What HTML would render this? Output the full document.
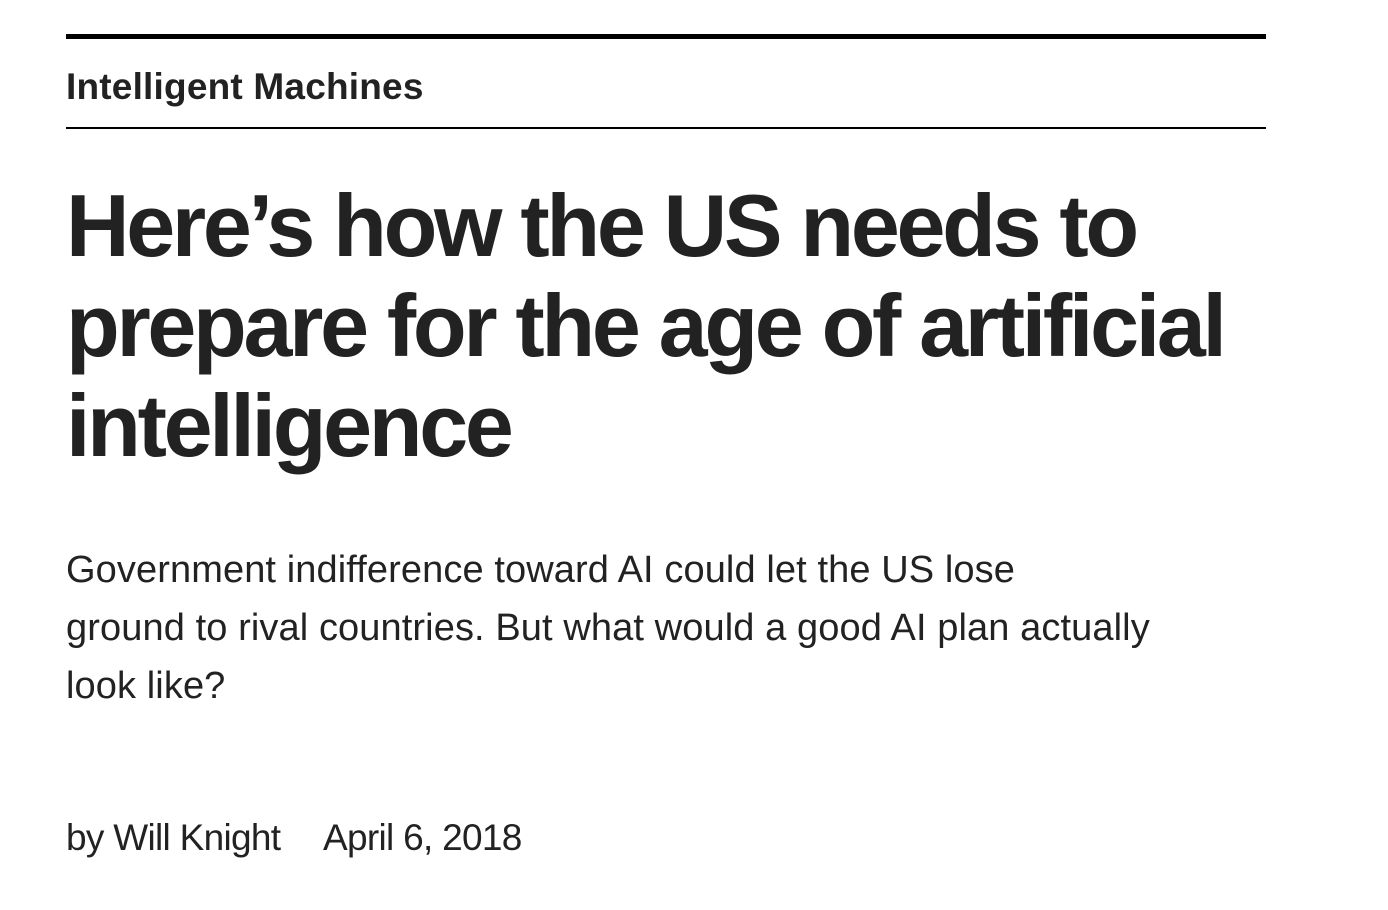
<!DOCTYPE html>
<html><head><meta charset="utf-8">
<style>
html,body{margin:0;padding:0;background:#fff;width:1388px;height:910px;overflow:hidden}
body{position:relative;font-family:"Liberation Sans",sans-serif;color:#1f1f1f}
.abs{position:absolute;left:66px;white-space:nowrap}
</style></head><body>
<div class="abs" style="top:34px;width:1200px;height:5px;background:#000"></div>
<div class="abs" style="top:68px;font-size:37px;line-height:37px;font-weight:bold;letter-spacing:0.2px;color:#222">Intelligent Machines</div>
<div class="abs" style="top:127px;width:1200px;height:2px;background:#000"></div>
<div class="abs" style="top:176px;font-size:88px;line-height:100px;font-weight:bold;letter-spacing:-3.3px;color:#222">Here’s how the US needs to<br>prepare for the age of artificial<br>intelligence</div>
<div class="abs" style="top:541px;font-size:38px;line-height:58px;letter-spacing:0.1px;color:#222">Government indifference toward AI could let the US lose<br>ground to rival countries. But what would a good AI plan actually<br>look like?</div>
<div class="abs" style="top:818px;font-size:37px;line-height:40px;letter-spacing:-0.7px;color:#222">by Will Knight</div>
<div class="abs" style="left:323px;top:818px;font-size:37px;line-height:40px;letter-spacing:-0.7px;color:#222">April 6, 2018</div>
</body></html>
